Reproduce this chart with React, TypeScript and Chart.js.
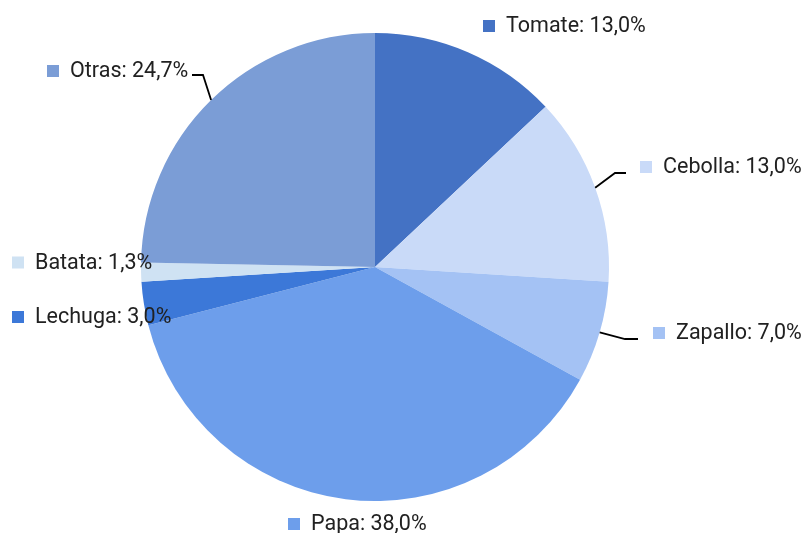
import React, { useEffect, useRef } from "react";
import { Chart, registerables } from "chart.js";

Chart.register(...registerables);

const categories = ["Tomate", "Cebolla", "Zapallo", "Papa", "Lechuga", "Batata", "Otras"];
const values = [13.0, 13.0, 7.0, 38.0, 3.0, 1.3, 24.7];
const colors = ["#4472c4", "#c9daf8", "#a4c2f4", "#6d9eeb", "#3c78d8", "#cfe2f3", "#7b9dd6"];

// label layout, relative to pie centre: marker-left x, text-centre y, optional elbow + line end
const labelLayout = [
  { mx: 108, my: -241 },
  { mx: 265, my: -100, ex: 240, ey: -94, lx: 251 },
  { mx: 278, my: 66, ex: 250, ey: 72, lx: 263 },
  { mx: -87, my: 257 },
  { mx: -363, my: 50 },
  { mx: -363, my: -4.5 },
  { mx: -328, my: -196, ex: -172, ey: -192, lx: -183 },
];

const fmt = (v: number) => v.toFixed(1).replace(".", ",") + "%";

const labelPlugin = {
  id: "pieLabels",
  afterDraw(chart: any) {
    const ctx = chart.ctx;
    const meta = chart.getDatasetMeta(0);
    ctx.save();
    ctx.font = "21.5px Roboto";
    ctx.textBaseline = "middle";
    ctx.textAlign = "left";
    meta.data.forEach((arc: any, i: number) => {
      const L = labelLayout[i];
      const cx = arc.x, cy = arc.y, r = arc.outerRadius;
      const mid = (arc.startAngle + arc.endAngle) / 2;
      if (L.ex !== undefined) {
        const px = cx + r * Math.cos(mid);
        const py = cy + r * Math.sin(mid);
        ctx.beginPath();
        ctx.strokeStyle = "#000";
        ctx.lineWidth = 1.8;
        ctx.moveTo(px, py);
        ctx.lineTo(cx + L.ex, cy + L.ey);
        ctx.lineTo(cx + L.lx, cy + L.ey);
        ctx.stroke();
      }
      const mx = cx + L.mx, my = cy + L.my;
      ctx.fillStyle = colors[i];
      ctx.fillRect(mx, my - 6, 12, 12);
      ctx.fillStyle = "#212121";
      ctx.fillText(categories[i] + ": " + fmt(values[i]), mx + 23, my + 1);
    });
    ctx.restore();
  },
};

export default function App() {
  const ref = useRef<HTMLCanvasElement | null>(null);
  useEffect(() => {
    if (!ref.current) return;
    const chart = new Chart(ref.current, {
      type: "pie",
      data: {
        labels: categories,
        datasets: [
          {
            data: values,
            backgroundColor: colors,
            borderWidth: 0,
          },
        ],
      },
      options: {
        responsive: false,
        animation: false,
        layout: { padding: { left: 141, right: 194, top: 33, bottom: 32 } },
        plugins: {
          legend: { display: false },
          tooltip: { enabled: false },
        },
      },
      plugins: [labelPlugin],
    });
    return () => chart.destroy();
  }, []);
  return (
    <div style={{ position: "fixed", left: 0, top: 0, width: 803, height: 533, background: "#fff" }}>
      <canvas ref={ref} width={803} height={533} />
    </div>
  );
}
